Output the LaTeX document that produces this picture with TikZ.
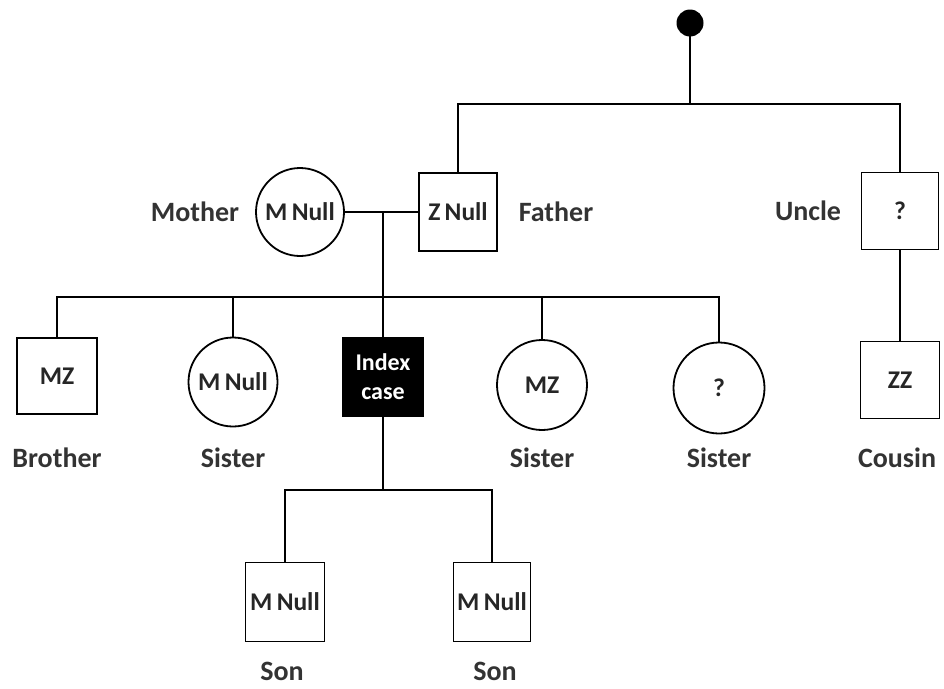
\documentclass[tikz,border=0pt]{standalone}
\usepackage{fontspec}
\setmainfont{Carlito}
\begin{document}
\begin{tikzpicture}[x=1pt,y=-1pt,
  line width=1.8pt,
  every node/.style={font=\fontsize{25.5}{28}\selectfont\bfseries, text=black!85, inner sep=0pt},
  male/.style={draw, rectangle, minimum width=78pt, minimum height=78pt},
  female/.style={draw, circle, minimum size=89pt},
  lbl/.style={font=\fontsize{28}{30}\selectfont\bfseries, text=black!80}]
\useasboundingbox (0,0) rectangle (944,688);
% nodes
\node[circle, fill=black, minimum size=27pt] (dot) at (690,23) {};
\node[female, minimum size=88pt] (mother) at (300,212) {M\,Null};
\node[male] (father) at (458,212) {Z\,Null};
\node[male, minimum width=77pt, minimum height=77pt] (uncle) at (900,211) {?};
\node[male, minimum width=80pt, minimum height=76pt] (brother) at (57,376) {MZ};
\node[female] (sis1) at (233,382) {M\,Null};
\node[male, fill=black, text=white, minimum width=80pt, minimum height=79pt, align=center, font=\fontsize{24}{29}\selectfont\bfseries] (index) at (383,377) {Index\\case};
\node[female, minimum size=90pt] (sis2) at (542,385) {MZ};
\node[female, minimum size=91pt] (sis3) at (719,388) {?};
\node[male, minimum width=79pt, minimum height=77pt] (cousin) at (900,380) {ZZ};
\node[male, minimum width=79pt, minimum height=79pt] (son1) at (285,602) {M\,Null};
\node[male, minimum width=77pt, minimum height=79pt] (son2) at (492,602) {M\,Null};
% labels
\node[lbl] (lmother) at (195,212) {Mother};
\node[lbl] (lfather) at (556,212) {Father};
\node[lbl] (luncle) at (808,211) {Uncle};
\node[lbl] (lbrother) at (57,458) {Brother};
\node[lbl] (lsis1) at (233,458) {Sister};
\node[lbl] (lsis2) at (542,458) {Sister};
\node[lbl] (lsis3) at (719,458) {Sister};
\node[lbl] (lcousin) at (897,458) {Cousin};
\node[lbl] (lson1) at (282,671) {Son};
\node[lbl] (lson2) at (495,671) {Son};
% junction coordinates
\coordinate (tb) at (690,104);
\coordinate (mj) at (383,212);
\coordinate (sj) at (383,297);
\coordinate (sonj) at (383,490);
% connectors
\draw (dot.center) -- (tb);
\draw (father.north) |- (tb) -| (uncle.north);
\draw (uncle.south) -- (cousin.north);
\draw (mother.east) -- (father.west);
\draw (mj) -- (index.north);
\draw (brother.north) |- (sj) -| (sis3.north);
\draw (sis1.north) -- (sis1.north |- sj);
\draw (sis2.north) -- (sis2.north |- sj);
\draw (index.south) -- (sonj);
\draw (son1.north) |- (sonj) -| (son2.north);
\end{tikzpicture}
\end{document}
